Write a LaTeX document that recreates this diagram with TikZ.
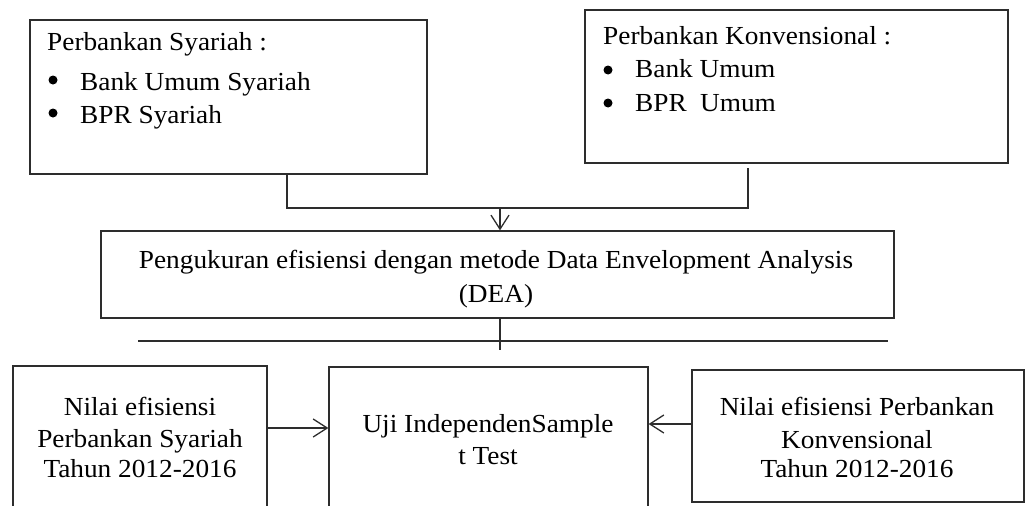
\documentclass[tikz,border=0pt]{standalone}
\usepackage{fontspec}
\setmainfont{Liberation Serif}[FakeStretch=1.05]
\usetikzlibrary{arrows.meta,calc}
\definecolor{linec}{RGB}{45,45,45}
\begin{document}
\begin{tikzpicture}[x=1pt,y=-1pt,
  box/.style={draw=linec, line width=1.3pt, inner sep=0pt},
  txt/.style={inner sep=0pt, font=\fontsize{26}{32}\selectfont},
  conn/.style={draw=linec, line width=1.3pt},
  arr/.style={conn, -{Straight Barb[length=14pt,width=18pt,line width=1.3pt]}}]
\useasboundingbox (0,0) rectangle (1026,506);
% boxes
\node[box, minimum width=397pt, minimum height=154pt] (syr) at (228.5,97) {};
\node[box, minimum width=423pt, minimum height=153pt] (konv) at (796.5,86.5) {};
\node[box, minimum width=793pt, minimum height=87pt] (dea) at (497.5,274.5) {};
\node[box, minimum width=254pt, minimum height=154pt] (nsy) at (140,443) {};
\node[box, minimum width=319pt, minimum height=153pt] (uji) at (488.5,443.5) {};
\node[box, minimum width=332pt, minimum height=132pt] (nkv) at (858,436) {};
% texts box 1
\node[txt, anchor=base west] (t1a) at (47,50) {Perbankan Syariah :};
\node[txt, anchor=base west] (t1b) at (80,90) {Bank Umum Syariah};
\node[txt, anchor=base west] (t1c) at (80,123) {BPR Syariah};
\fill[black] (53,80) circle (4.5);
\fill[black] (53,113) circle (4.5);
% texts box 2
\node[txt, anchor=base west] (t2a) at (603,45) {Perbankan Konvensional :};
\node[txt, anchor=base west] (t2b) at (635,77) {Bank Umum};
\node[txt, anchor=base west] (t2c) at (635,111) {BPR\hspace{0.25em} Umum};
\fill[black] (608,70) circle (4.5);
\fill[black] (608,103) circle (4.5);
% DEA
\node[txt, anchor=base] (t3a) at (496,268) {Pengukuran efisiensi dengan metode Data Envelopment Analysis};
\node[txt, anchor=base] (t3b) at (496,302) {(DEA)};
% bottom left
\node[txt, anchor=base] (t4a) at (140,415) {Nilai efisiensi};
\node[txt, anchor=base] (t4b) at (140,447) {Perbankan Syariah};
\node[txt, anchor=base] (t4c) at (140,477) {Tahun 2012-2016};
% middle
\node[txt, anchor=base] (t5a) at (488,432) {Uji IndependenSample};
\node[txt, anchor=base] (t5b) at (488,464) {t Test};
% right
\node[txt, anchor=base] (t6a) at (857,415) {Nilai efisiensi Perbankan};
\node[txt, anchor=base] (t6b) at (857,448) {Konvensional};
\node[txt, anchor=base] (t6c) at (857,477) {Tahun 2012-2016};
% connectors
\coordinate (j1) at (287,208);
\coordinate (j2) at (748,208);
\coordinate (kt) at (748,168);
\coordinate (j3) at (500,208);
\coordinate (dv) at (500,350);
\coordinate (hl1) at (138,341);
\coordinate (hl2) at (888,341);
\coordinate (al) at (0,428);
\coordinate (ar) at (0,424);
\draw[conn] (syr.south -| j1) -- (j1) -- (j2) -- (kt);
\draw[arr] (j3) -- (j3 |- dea.north);
\draw[conn] (dea.south -| dv) -- (dv);
\draw[conn] (hl1) -- (hl2);
\draw[arr] (nsy.east |- al) -- (uji.west |- al);
\draw[arr] (nkv.west |- ar) -- (uji.east |- ar);
\end{tikzpicture}
\end{document}
